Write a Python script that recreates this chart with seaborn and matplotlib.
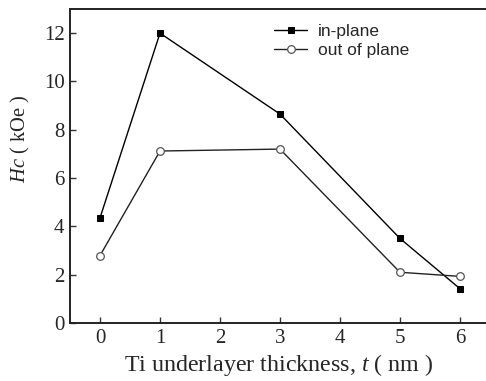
import matplotlib
matplotlib.use("Agg")
import matplotlib.pyplot as plt
import seaborn as sns
import pandas as pd

thickness = [0, 1, 3, 5, 6]
in_plane = [4.35, 12.0, 8.65, 3.5, 1.42]
out_of_plane = [2.79, 7.12, 7.2, 2.1, 1.93]
series_names = ["in-plane", "out of plane"]
x_ticks = [0, 1, 2, 3, 4, 5, 6]
y_ticks = [0, 2, 4, 6, 8, 10, 12]

sns.set_style("ticks")
plt.rcParams["font.family"] = ["Liberation Serif", "DejaVu Serif"]
plt.rcParams["mathtext.fontset"] = "custom"
plt.rcParams["mathtext.it"] = "Liberation Serif:italic"
plt.rcParams["mathtext.rm"] = "Liberation Serif"

fig = plt.figure(figsize=(4.86, 3.81), dpi=100)
ax = fig.add_axes([70 / 486, 58 / 381, 1 - 70 / 486 + 0.002, (323 - 9) / 381])

df_in = pd.DataFrame({"t": thickness, "Hc": in_plane})
df_out = pd.DataFrame({"t": thickness, "Hc": out_of_plane})

sns.lineplot(data=df_in, x="t", y="Hc", ax=ax, color="black", lw=1.0,
             marker="s", markersize=5, markerfacecolor="black",
             markeredgecolor="black", label=series_names[0])
sns.lineplot(data=df_out, x="t", y="Hc", ax=ax, color="#222222", lw=1.0,
             marker="o", markersize=5.5, markerfacecolor="white",
             markeredgecolor="#555555", markeredgewidth=0.9,
             label=series_names[1])

ax.set_xlim(-0.5, 6.45)
ax.set_ylim(0, 13)
ax.set_xticks(x_ticks)
ax.set_yticks(y_ticks)
ax.tick_params(direction="in", length=4, width=1.0, labelsize=15, pad=4,
               color="#333333")
for s in ["left", "bottom", "top"]:
    ax.spines[s].set_linewidth(1.4)
    ax.spines[s].set_color("#222222")
ax.spines["right"].set_visible(False)

ax.set_xlabel(r"Ti underlayer thickness, $t$ ( nm )", fontsize=17.3, labelpad=3)
ax.set_ylabel(r"$Hc$ ( kOe )", fontsize=14.8)
ax.yaxis.set_label_coords(-0.091, 0.586)

leg = ax.legend(loc="upper left", bbox_to_anchor=(0.465, 0.985), frameon=False,
                prop={"family": "Liberation Sans", "size": 12.5},
                handlelength=1.9, handletextpad=0.6, labelspacing=0.2,
                borderaxespad=0.2)

fig.savefig("out.png", dpi=100)
